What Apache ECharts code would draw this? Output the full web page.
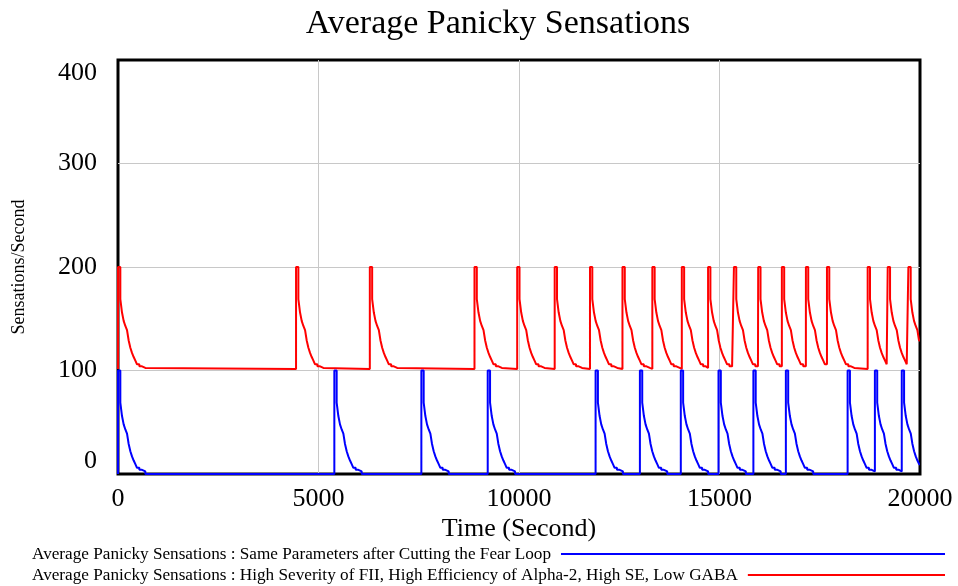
<!DOCTYPE html>
<html>
<head>
<meta charset="utf-8">
<script src="https://cdn.jsdelivr.net/npm/echarts@6/dist/echarts.min.js"></script>
<style>
html,body{margin:0;padding:0;background:#fff;}
#chart{width:958px;height:586px;}
</style>
</head>
<body>
<div id="chart"></div>
<script>
// ---- data ----
const chartTitle = 'Average Panicky Sensations';
const xAxisName = 'Time (Second)';
const yAxisName = 'Sensations/Second';
const xMin = 0, xMax = 20000, xStep = 5000;
const yMin = 0, yMax = 400, yStep = 100;

const blueName = 'Average Panicky Sensations : Same Parameters after Cutting the Fear Loop';
const redName = 'Average Panicky Sensations : High Severity of FII, High Efficiency of Alpha-2, High SE, Low GABA';

// times (s) at which each series jumps to its peak
const redSpikes = [0, 4440, 6280, 8890, 9955, 10890, 11770, 12580, 13325, 14060, 14715, 15360, 15965, 16555, 17155, 17680, 18695, 19195, 19710];
const blueSpikes = [0, 5395, 7565, 9220, 11910, 13015, 14035, 14975, 15845, 16655, 18195, 18875, 19545];

// staircase decay after a spike: offsets (s) and levels
const decayOffsets = [0, 58, 100, 141, 183, 225, 266, 308, 349, 391, 433, 474, 532, 599, 682];
const redDecay  = [200, 169, 156, 148, 143, 139, 129, 122, 117, 113, 109.5, 106, 104, 102.5, 101.5];
const blueDecay = [100, 69, 56, 48, 43, 39, 29, 22, 17, 13, 9.5, 6, 4, 2.5, 0];
const redStart = 101.5;
const blueStart = 0;

function buildSeries(spikes, levels, start) {
  const pts = [[xMin, start]];
  let last = start;
  spikes.forEach((s, i) => {
    const next = i + 1 < spikes.length ? spikes[i + 1] : xMax;
    for (let k = 0; k < decayOffsets.length; k++) {
      const t = s + decayOffsets[k];
      if (t >= next) break;
      pts.push([t, levels[k]]);
      last = levels[k];
    }
  });
  pts.push([xMax, last]);
  return pts;
}
const redData = buildSeries(redSpikes, redDecay, redStart);
const blueData = buildSeries(blueSpikes, blueDecay, blueStart);

// ---- chart ----
const FONT = "'Liberation Serif', 'Times New Roman', serif";
const chart = echarts.init(document.getElementById('chart'), null, {renderer: 'canvas'});

function textWidth(str, font) {
  const c = document.createElement('canvas').getContext('2d');
  c.font = font;
  return c.measureText(str).width;
}
const legendFont = '17.2px ' + FONT;
const legX = 32;
const w1 = textWidth(blueName, legendFont);
const w2 = textWidth(redName, legendFont);

chart.setOption({
  animation: false,
  backgroundColor: '#fff',
  title: {
    text: chartTitle,
    left: 493,
    top: 2,
    textAlign: 'center',
    textStyle: {fontFamily: FONT, fontSize: 34, fontWeight: 'normal', color: '#000'}
  },
  grid: {
    left: 118, right: 38, top: 60, bottom: 112,
    outerBoundsMode: 'none', containLabel: false,
    show: true, borderColor: '#000', borderWidth: 3, backgroundColor: '#fff'
  },
  xAxis: {
    type: 'value', min: xMin, max: xMax, interval: xStep,
    name: xAxisName, nameLocation: 'middle', nameGap: 42, nameMoveOverlap: false,
    nameTextStyle: {fontFamily: FONT, fontSize: 26, color: '#000'},
    axisLine: {show: false}, axisTick: {show: false},
    axisLabel: {fontFamily: FONT, fontSize: 26, color: '#000', margin: 12,
      formatter: v => String(v)},
    splitLine: {show: true, showMinLine: false, showMaxLine: false,
      lineStyle: {color: '#c8c8c8', width: 1}}
  },
  yAxis: {
    type: 'value', min: yMin, max: yMax, interval: yStep,
    name: yAxisName, nameLocation: 'middle', nameGap: 90, nameRotate: 90, nameMoveOverlap: false,
    nameTextStyle: {fontFamily: FONT, fontSize: 18, color: '#000'},
    axisLine: {show: false}, axisTick: {show: false},
    axisLabel: {fontFamily: FONT, fontSize: 26, color: '#000', margin: 21,
      formatter: v => String(v),
      verticalAlignMinLabel: 'bottom', verticalAlignMaxLabel: 'top'},
    splitLine: {show: true, showMinLine: false, showMaxLine: false,
      lineStyle: {color: '#c8c8c8', width: 1}}
  },
  series: [
    {
      name: redName, type: 'line', step: 'end', data: redData,
      showSymbol: false, symbol: 'none',
      lineStyle: {color: '#ff0000', width: 2}, z: 3
    },
    {
      name: blueName, type: 'line', step: 'end', data: blueData,
      showSymbol: false, symbol: 'none',
      lineStyle: {color: '#0000ff', width: 2}, z: 4
    }
  ],
  graphic: [
    {type: 'text', x: legX, y: 554, style: {text: blueName, font: legendFont, fill: '#000', verticalAlign: 'middle'}},
    {type: 'line', shape: {x1: legX + w1 + 10, y1: 554, x2: 945, y2: 554}, style: {stroke: '#0000ff', lineWidth: 2}},
    {type: 'text', x: legX, y: 575, style: {text: redName, font: legendFont, fill: '#000', verticalAlign: 'middle'}},
    {type: 'line', shape: {x1: legX + w2 + 10, y1: 575, x2: 945, y2: 575}, style: {stroke: '#ff0000', lineWidth: 2}}
  ]
});
</script>
</body>
</html>
